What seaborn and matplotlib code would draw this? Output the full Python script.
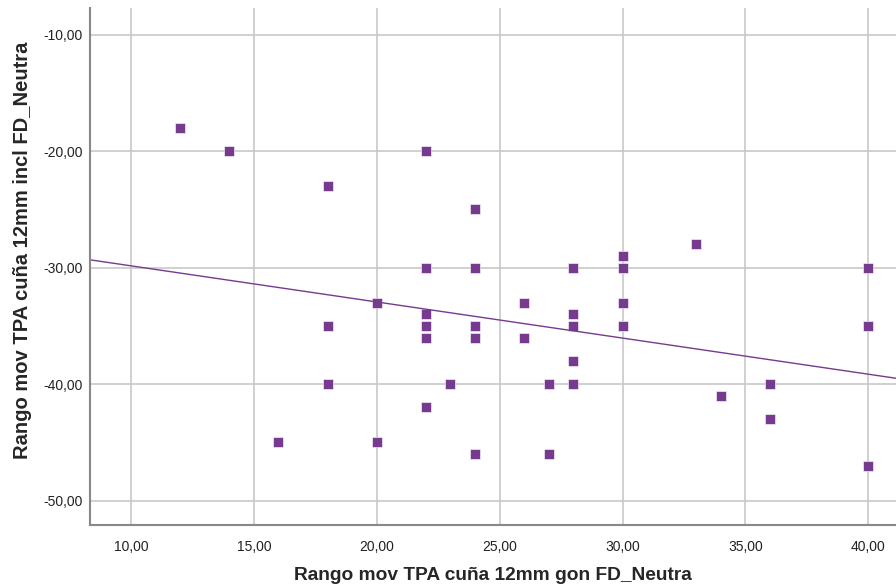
import seaborn as sns, matplotlib.pyplot as plt, pandas as pd, numpy as np
from matplotlib.ticker import FuncFormatter

# values
gon = [12, 14, 16, 18, 18, 18, 20, 20, 22, 22, 22, 22, 22, 22, 23, 24, 24, 24, 24, 24,
       26, 26, 27, 27, 28, 28, 28, 28, 28, 30, 30, 30, 30, 33, 34, 36, 36, 40, 40, 40]
incl = [-18, -20, -45, -23, -35, -40, -33, -45, -20, -30, -34, -35, -36, -42, -40, -25, -30, -35, -36, -46,
        -33, -36, -40, -46, -30, -34, -35, -38, -40, -29, -30, -33, -35, -28, -41, -40, -43, -30, -35, -47]
xticks = [10, 15, 20, 25, 30, 35, 40]
yticks = [-10, -20, -30, -40, -50]

df = pd.DataFrame({'gon': gon, 'incl': incl})

sns.set_style('white')
plt.rcParams['font.family'] = ['Liberation Sans', 'DejaVu Sans']

purple = '#763a8f'
fig = plt.figure(figsize=(8.96, 5.88), dpi=100)
ax = fig.add_axes([90/896, 63/588, 806/896, 517/588])
ax.set_xlim(8.33, 41.13)
ax.set_ylim(-52.1, -7.7)

#grid first so it sits under the points
ax.set_xticks(xticks)
ax.set_yticks(yticks)
ax.grid(True, color='#c8c8c8', linewidth=1.2)
ax.set_axisbelow(True)

sns.regplot(data=df, x='gon', y='incl', ax=ax, ci=None, truncate=False,
            marker='s', color=purple,
            scatter_kws={'s': 55, 'linewidths': 0.4, 'edgecolors': 'white', 'alpha': 1},
            line_kws={'linewidth': 1.0})
ax.set_xlim(8.33, 41.13)
ax.set_ylim(-52.1, -7.7)

fmt = FuncFormatter(lambda v, p: f'{v:.2f}'.replace('.', ','))
ax.xaxis.set_major_formatter(fmt)
ax.yaxis.set_major_formatter(fmt)
ax.tick_params(axis='both', length=0, labelsize=10, colors='#222222')
ax.tick_params(axis='x', pad=11)
ax.tick_params(axis='y', pad=5)

for s in ['top', 'right']:
    ax.spines[s].set_visible(False)
for s in ['left', 'bottom']:
    ax.spines[s].set_color('#888888')
    ax.spines[s].set_linewidth(1.5)

ax.set_xlabel('Rango mov TPA cuña 12mm gon FD_Neutra', fontsize=13.8, fontweight='bold', labelpad=9)
ax.set_ylabel('Rango mov TPA cuña 12mm incl FD_Neutra', fontsize=14.5, fontweight='bold')
ax.yaxis.set_label_coords(-0.072, 0.532)

fig.savefig('out.png', dpi=100)
